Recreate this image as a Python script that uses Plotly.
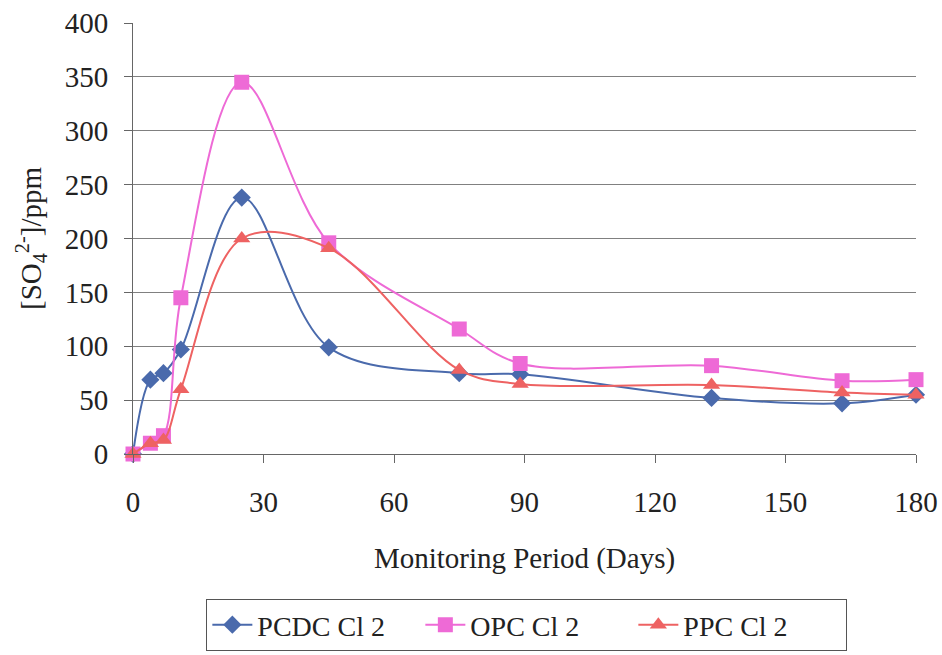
import plotly.graph_objects as go

days = [0, 4, 7, 11, 25, 45, 75, 89, 133, 163, 180]
pcdc = [0, 69, 75, 97, 238, 99, 75, 74, 52, 47, 55]
opc = [0, 10, 17, 145, 345, 196, 116, 84, 82, 68, 69]
ppc = [0, 10, 13, 60, 200, 191, 78, 65, 64, 57, 55]

names = ["PCDC Cl 2", "OPC Cl 2", "PPC Cl 2"]
colors = ["#4A6AAC", "#EE6AD6", "#EE6262"]
symbols = ["diamond", "square", "triangle-up"]
sizes = [14, 15, 15]

FONT = "Liberation Serif"

fig = go.Figure()
for name, vals, col, sym, sz in zip(names, [pcdc, opc, ppc], colors, symbols, sizes):
    fig.add_trace(go.Scatter(
        x=days, y=vals, name=name, mode="lines+markers",
        line=dict(color=col, width=2, shape="spline", smoothing=1.0),
        marker=dict(symbol=sym, size=sz, color=col),
        cliponaxis=False,
    ))

fig.update_layout(
    width=942, height=655,
    margin=dict(l=133, r=26, t=23, b=201),
    paper_bgcolor="white", plot_bgcolor="white",
    font=dict(family=FONT, size=29, color="#222222"),
    showlegend=True,
    legend=dict(
        orientation="h", x=0.503, xanchor="center",
        yref="container", y=1 - 651 / 655, yanchor="bottom",
        bordercolor="#555555", borderwidth=1, font=dict(family=FONT, size=28),
        bgcolor="white", entrywidth=158, entrywidthmode="pixels", itemwidth=40,
    ),
    xaxis=dict(
        range=[0, 180], tick0=0, dtick=30, showgrid=False, zeroline=False,
        showline=True, linecolor="#666666", linewidth=1, automargin=False,
        ticks="outside", ticklen=8, tickcolor="#666666", ticklabelstandoff=14,
        title=dict(text="Monitoring Period (Days)", font=dict(family=FONT, size=29), standoff=30),
    ),
    yaxis=dict(
        range=[0, 400], tick0=0, dtick=50, showgrid=True, gridcolor="#808080", gridwidth=1,
        zeroline=False, showline=True, linecolor="#666666", linewidth=1, automargin=False,
        ticks="outside", ticklen=8, tickcolor="#666666", ticklabelstandoff=10,
        title=dict(text="[SO<sub>4</sub><sup>2-</sup>]/ppm", font=dict(family=FONT, size=29), standoff=14),
    ),
)

fig.write_html("out.html")
